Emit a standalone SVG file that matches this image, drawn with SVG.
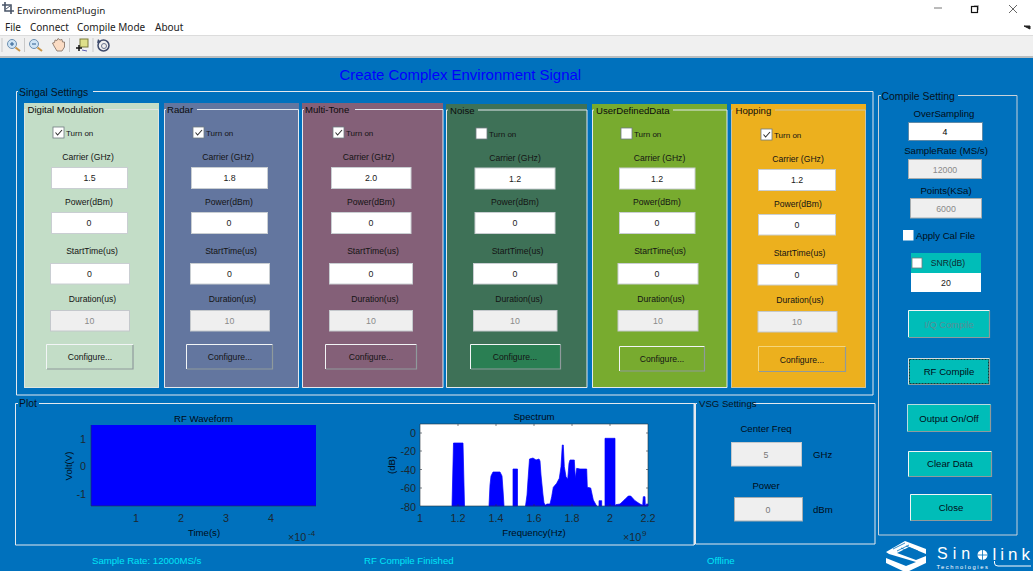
<svg xmlns="http://www.w3.org/2000/svg" width="1033" height="574" viewBox="0 0 1033 574">
<style>
text{font-family:"Liberation Sans",Arial,sans-serif;font-size:8.6px;fill:#141414}
.c{text-anchor:middle}
.ui{font-family:"Noto Sans","Open Sans",sans-serif;font-size:10px;fill:#222}
.leg{font-size:9.6px;fill:#0c0c0c}
.on{font-size:8px}
.head{font-size:10.4px;fill:#06121c}
.val{font-size:8.8px;fill:#222;text-anchor:middle}
.dis{font-size:8.8px;fill:#8a8a8a;text-anchor:middle}
.lbl{font-size:9.6px;fill:#000d18}
.tick{font-size:10.8px;fill:#1c2830}
.ttl{font-size:9.6px;fill:#000a14;text-anchor:middle}
.stat{font-size:9.6px;fill:#00e6f6}
.frame{fill:none;stroke:#e4e9ee;stroke-width:1}
.f{fill:#fff;stroke:#c9ced2;stroke-width:1}
.fd{fill:#efefef;stroke:#c4c8cc;stroke-width:1}
.cb{fill:#fff;stroke:#6f7a80;stroke-width:.8}
.bh{fill:none;stroke:#f2f5f6;stroke-width:1}
.bs{fill:none;stroke:#8f9a9c;stroke-width:1.2}
.tl{stroke:#26323c;stroke-width:.6;fill:none}
.bt{fill:#00bdb8}
.ck{fill:none;stroke:#333;stroke-width:1.1}
.lg{fill:#fff}
</style>
<defs>
<path id="check" class="ck" d="M2.5,5.5 L4.6,8 L9,3"/>
</defs>
<rect id="window" width="1033" height="574" fill="#fff"/>
<rect id="toolbar" y="36" width="1033" height="21" fill="#f0f0f0"/>
<rect y="35" width="1033" height="1" fill="#dcdcdc"/>
<rect y="56" width="1033" height="2" fill="#b9bdbf"/>
<rect id="bg" y="58" width="1033" height="513" fill="#0071bd"/>

<g id="titlebar">
<path d="M5,2 V11 H14 M2,5 H11 V14" fill="none" stroke="#4a5568" stroke-width="1.6"/>
<path d="M6,9 L10,6" stroke="#4a5568" stroke-width="1"/>
<text class="ui" style="font-size:9.8px" x="17" y="13.5">EnvironmentPlugin</text>
<path d="M934,8 H942" stroke="#777" stroke-width="1"/>
<rect x="971.5" y="6.5" width="6" height="6" fill="none" stroke="#111" stroke-width="1.2"/>
<path d="M974,5.5 H978.5 V10" fill="none" stroke="#999" stroke-width=".8"/>
<path d="M1009,5 L1017,13 M1017,5 L1009,13" stroke="#666" stroke-width="1"/>
<path d="M1024,26 L1030,29 V26 Z" fill="#222" stroke="#222"/>
</g>
<g id="menu">
<text class="ui" x="5" y="31">File</text>
<text class="ui" x="30" y="31">Connect</text>
<text class="ui" x="77" y="31">Compile Mode</text>
<text class="ui" x="155" y="31">About</text>
</g>
<g id="tools">
<path d="M2,38 V52 M24.5,38 V52 M69.5,38 V52 M93,38 V52" stroke="#c9c9c9"/>
<g id="tool-zoom-in"><circle cx="12" cy="44" r="4.5" fill="#cfe4f5" stroke="#6d8fb0"/><path d="M15.5,47.5 L20,51" stroke="#c9964a" stroke-width="2"/><path d="M10,44 H14 M12,42 V46" stroke="#2a5d8f"/></g>
<g id="tool-zoom-out"><circle cx="34" cy="44" r="4.5" fill="#cfe4f5" stroke="#6d8fb0"/><path d="M37.5,47.5 L42,51" stroke="#c9964a" stroke-width="2"/><path d="M32,44 H36" stroke="#2a5d8f"/></g>
<g id="tool-pan"><path d="M54,46 L52.5,43 L54.5,42.5 L55,40 L57,40.5 L58,38.5 L60,40 L62,39.5 L62.5,42 L64.5,42 L64.5,47 L62,51 L57,51 Z" fill="#fbdcc4" stroke="#7d6a5d" stroke-width=".8"/></g>
<g id="tool-cursor"><rect x="80" y="39" width="8" height="8" fill="#dfe08a" stroke="#7a7a3c"/><path d="M76,48 H82 M79,45 V51" stroke="#111" stroke-width="1.5"/><path d="M82,50 L87,51" stroke="#5b5bb0"/></g>
<g id="tool-rotate"><circle cx="103.5" cy="45.5" r="5.5" fill="none" stroke="#3e4a6b" stroke-width="1.5"/><circle cx="104" cy="46" r="2.5" fill="none" stroke="#6b7590"/><path d="M98,39 L101,42 L97,43 Z" fill="#3e4a6b"/></g>
</g>
<text id="title" x="339.5" y="80" style="font-size:14.95px;fill:#0000ff">Create Complex Environment Signal</text>

<g id="signal-settings">
<path class="frame" d="M93,91.5 H873 V395 H16.5 V91.5 H18"/>
<text class="head" x="19" y="96">Singal Settings</text>
</g>

<g id="panel-digital">
<rect x="24" y="103" width="135" height="285" fill="#c3ddc7"/>
<path class="frame" d="M105,109.5 H158.5 V387.5 H24.5 V109.5 H26" style="stroke:#dfe6e2"/>
<text class="leg" x="27.5" y="113">Digital Modulation</text>
<rect class="cb" x="53" y="127" width="11" height="11"/><use href="#check" x="53" y="127"/>
<text class="on" x="66" y="136">Turn on</text>
<text class="c" x="88" y="160">Carrier (GHz)</text>
<rect class="f" x="51.5" y="167.5" width="76" height="21"/><text class="val" x="89.5" y="181">1.5</text>
<text class="c" x="89" y="204.5">Power(dBm)</text>
<rect class="f" x="51.5" y="212.5" width="76" height="21"/><text class="val" x="89" y="226">0</text>
<text class="c" x="92" y="254">StartTime(us)</text>
<rect class="f" x="50.5" y="263.5" width="79" height="20.5"/><text class="val" x="89.5" y="276.5">0</text>
<text class="c" x="92.5" y="302">Duration(us)</text>
<rect class="fd" x="50.5" y="310.5" width="79" height="20.5"/><text class="dis" x="89.5" y="323.5">10</text>
<rect x="46" y="344" width="87.5" height="25.5" fill="#c3ddc7"/><path class="bh" d="M46.5,369 V344.5 H133"/><path class="bs" d="M47,369 H133 V345"/>
<text class="c" x="90" y="360">Configure...</text>
</g>

<g id="panel-radar">
<rect x="164" y="103" width="135" height="285" fill="#63769f"/>
<path class="frame" d="M197,109.5 H298.5 V387.5 H164.5 V109.5 H166"/>
<text class="leg" x="167" y="113">Radar</text>
<rect class="cb" x="193" y="127" width="11" height="11"/><use href="#check" x="193" y="127"/>
<text class="on" x="206" y="136">Turn on</text>
<text class="c" x="228" y="160">Carrier (GHz)</text>
<rect class="f" x="191.5" y="167.5" width="76" height="21"/><text class="val" x="229.5" y="181">1.8</text>
<text class="c" x="229" y="204.5">Power(dBm)</text>
<rect class="f" x="191.5" y="212.5" width="76" height="21"/><text class="val" x="229" y="226">0</text>
<text class="c" x="231" y="254">StartTime(us)</text>
<rect class="f" x="190.5" y="263.5" width="79" height="20.5"/><text class="val" x="229.5" y="276.5">0</text>
<text class="c" x="232.5" y="302">Duration(us)</text>
<rect class="fd" x="190.5" y="310.5" width="79" height="20.5"/><text class="dis" x="229.5" y="323.5">10</text>
<rect x="186" y="344" width="87" height="25.5" fill="#63769f"/><path class="bh" d="M186.5,369 V344.5 H272.5"/><path class="bs" d="M187,369 H272.5 V345"/>
<text class="c" x="230" y="360">Configure...</text>
</g>

<g id="panel-multitone">
<rect x="302" y="103" width="141" height="285" fill="#846078"/>
<path class="frame" d="M355,109.5 H443 V387.5 H302.5 V109.5 H304"/>
<text class="leg" x="305" y="113">Multi-Tone</text>
<rect class="cb" x="333" y="127" width="11" height="11"/><use href="#check" x="333" y="127"/>
<text class="on" x="346" y="136">Turn on</text>
<text class="c" x="368.5" y="160">Carrier (GHz)</text>
<rect class="f" x="331.5" y="167.5" width="79.5" height="21"/><text class="val" x="371" y="181">2.0</text>
<text class="c" x="371" y="204.5">Power(dBm)</text>
<rect class="f" x="331.5" y="212.5" width="79.5" height="21"/><text class="val" x="371" y="226">0</text>
<text class="c" x="373" y="254">StartTime(us)</text>
<rect class="f" x="329.5" y="263.5" width="83" height="20.5"/><text class="val" x="371" y="276.5">0</text>
<text class="c" x="375" y="302">Duration(us)</text>
<rect class="fd" x="329.5" y="310.5" width="83" height="20.5"/><text class="dis" x="371" y="323.5">10</text>
<rect x="325" y="344" width="92" height="25.5" fill="#846078"/><path class="bh" d="M325.5,369 V344.5 H416.5"/><path class="bs" d="M326,369 H416.5 V345"/>
<text class="c" x="371" y="360">Configure...</text>
</g>

<g id="panel-noise">
<rect x="446" y="104" width="141" height="284" fill="#3e7157"/>
<path class="frame" d="M478,110 H587 V387.5 H446.5 V110 H448"/>
<text class="leg" x="450" y="113.5">Noise</text>
<rect class="cb" x="476" y="128" width="11" height="11"/>
<text class="on" x="489" y="137">Turn on</text>
<text class="c" x="515" y="160.5">Carrier (GHz)</text>
<rect class="f" x="475" y="168" width="80" height="21"/><text class="val" x="515" y="181.5">1.2</text>
<text class="c" x="515" y="204.5">Power(dBm)</text>
<rect class="f" x="475" y="212.5" width="80" height="21"/><text class="val" x="515" y="226">0</text>
<text class="c" x="517.5" y="254">StartTime(us)</text>
<rect class="f" x="473.5" y="263.5" width="83.5" height="20.5"/><text class="val" x="515" y="276.5">0</text>
<text class="c" x="519" y="302">Duration(us)</text>
<rect class="fd" x="473.5" y="310.5" width="83.5" height="20.5"/><text class="dis" x="515" y="323.5">10</text>
<rect x="470" y="344" width="91" height="25.5" fill="#2a7f53"/><path class="bh" d="M470.5,369 V344.5 H560.5"/><path class="bs" d="M471,369 H560.5 V345"/>
<text class="c" x="515" y="360">Configure...</text>
</g>

<g id="panel-userdata">
<rect x="592" y="104" width="135" height="284" fill="#78ab2f"/>
<path class="frame" d="M673,110 H727 V387.5 H592.500 V110 H594"/>
<text class="leg" x="596" y="113.5">UserDefinedData</text>
<rect class="cb" x="621" y="128" width="11" height="11"/>
<text class="on" x="634" y="137">Turn on</text>
<text class="c" x="659.500" y="160.500">Carrier (GHz)</text>
<rect class="f" x="619.500" y="168" width="75.500" height="21"/><text class="val" x="657" y="181.500">1.2</text>
<text class="c" x="657" y="204.500">Power(dBm)</text>
<rect class="f" x="619.500" y="212.500" width="75.500" height="21"/><text class="val" x="657" y="226">0</text>
<text class="c" x="660" y="254">StartTime(us)</text>
<rect class="f" x="618" y="263.500" width="80" height="20.500"/><text class="val" x="657" y="276.500">0</text>
<text class="c" x="661" y="302">Duration(us)</text>
<rect class="fd" x="618" y="310.500" width="80" height="20.500"/><text class="dis" x="658" y="323.500">10</text>
<rect x="619" y="346" width="86" height="25.500" fill="#78ab2f"/><path class="bh" d="M619.500,371 V346.500 H704.500"/><path class="bs" d="M620,371 H704.500 V347"/>
<text class="c" x="662" y="362">Configure...</text>
</g>

<g id="panel-hopping">
<rect x="731" y="104" width="135" height="284" fill="#ecb01e"/>
<path class="frame" d="M775,110 H865.500 V387.500 H731.500 V110 H733" style="stroke:#c8c4a8"/>
<text class="leg" x="735.500" y="114">Hopping</text>
<rect class="cb" x="761" y="129" width="11" height="11"/><use href="#check" x="761" y="129"/>
<text class="on" x="774" y="138">Turn on</text>
<text class="c" x="798" y="162">Carrier (GHz)</text>
<rect class="f" x="758.500" y="169.500" width="77" height="21"/><text class="val" x="797" y="183">1.2</text>
<text class="c" x="798" y="206.500">Power(dBm)</text>
<rect class="f" x="758.500" y="214.500" width="77" height="20.500"/><text class="val" x="797" y="228">0</text>
<text class="c" x="799.500" y="255.500">StartTime(us)</text>
<rect class="f" x="758" y="264.500" width="79" height="20.500"/><text class="val" x="797" y="277.500">0</text>
<text class="c" x="800" y="303">Duration(us)</text>
<rect class="fd" x="758" y="311.500" width="79" height="20.500"/><text class="dis" x="797" y="324.500">10</text>
<rect x="758" y="346" width="88" height="26" fill="#ecb01e"/><path class="bh" d="M758.500,371 V346.500 H845.500" style="stroke:#f5d67a"/><path class="bs" d="M759,371.500 H845.500 V347"/>
<text class="c" x="802" y="363">Configure...</text>
</g>

<g id="plot">
<path class="frame" d="M39,403.500 H694 V545 H15.500 V403.500 H18"/>
<path d="M694.500,403 V545" stroke="#e4e9ee"/>
<text class="head" x="19" y="407">Plot</text>
</g>

<g id="waveform">
<text class="ttl" x="203.500" y="422">RF Waveform</text>
<rect x="91" y="425" width="225" height="81" fill="#0000ff"/>
<path class="tl" d="M91,425 V506 H316"/>
<text class="tick" text-anchor="end" x="86" y="443">1</text><text class="tick" text-anchor="end" x="86" y="470">0</text><text class="tick" text-anchor="end" x="86" y="497.500">-1</text>
<text class="tick c" x="136" y="522">1</text><text class="tick c" x="181" y="522">2</text><text class="tick c" x="226" y="522">3</text><text class="tick c" x="271" y="522">4</text>
<text class="lbl c" transform="translate(72,466) rotate(-90)">Volt(V)</text>
<text class="lbl c" x="204" y="536">Time(s)</text>
<text class="tick" x="288" y="541">×10</text><text class="tick" style="font-size:8px" x="308" y="536">-4</text>
</g>

<g id="spectrum">
<text class="ttl" x="534" y="420">Spectrum</text>
<rect x="420" y="424" width="228" height="82" fill="#fff"/>
<path fill="#0000ff" stroke="#0000ff" stroke-width=".7" stroke-linejoin="round" d="M452,506 L453.500,443 H463 L464.500,506 Z
M489,506 L490,485 L491,476 L493,472 H500 L502,476 L503,490 L504,506 Z
M513,506 V469 H517.500 V506 Z
M525.500,506 L527,495 L528,480 L529.500,459 L533,458 L536,460 L539,459 L540,461 L541,475 L543,495 L544,503 L546,506 Z
M545,506 L546.700,504 L550,504 L551.700,496.700 L553.300,487.300 L556.700,483.300 L559.300,478.300 L561,466.700 L562.300,445 L563.300,445 L564.300,466.700 L566,476.700 L567.700,479.300 L569,463.300 L570,460 L574.300,460 L575.300,478.300 L576.700,468.300 L580,469 L586.700,469 L587.300,487.300 L590.700,488 L593.300,500 L596.700,506 Z
M599,506 V500.700 H601.700 V506 Z
M605,506 V438.300 H615 V506 Z
M615,506 L615.700,504.700 L620,504 L625,499.300 L628.300,496 L630.700,496 L635,500.700 L640,504 L642.700,505.300 L643.300,496.700 L645,496.700 L645.300,505.300 L646.700,504 L648,504 V506 Z"/>
<path class="tl" d="M420,424 H648 V506 H420 Z M420,433 H422 M420,451 H422 M420,469.500 H422 M420,488 H422 M648,433 H646 M648,451 H646 M648,469.500 H646 M648,488 H646 M458,506 V504 M496,506 V504 M534,506 V504 M572,506 V504 M610,506 V504 M458,424 V426 M496,424 V426 M534,424 V426 M572,424 V426 M610,424 V426"/>
<text class="tick" text-anchor="end" x="416" y="437">0</text><text class="tick" text-anchor="end" x="416" y="455">-20</text><text class="tick" text-anchor="end" x="416" y="473.500">-40</text><text class="tick" text-anchor="end" x="416" y="492">-60</text><text class="tick" text-anchor="end" x="416" y="511">-80</text>
<text class="tick c" x="420" y="522">1</text><text class="tick c" x="458" y="522">1.2</text><text class="tick c" x="496" y="522">1.4</text><text class="tick c" x="534" y="522">1.6</text><text class="tick c" x="572" y="522">1.8</text><text class="tick c" x="610" y="522">2</text><text class="tick c" x="648" y="522">2.2</text>
<text class="lbl c" transform="translate(395,465) rotate(-90)">(dB)</text>
<text class="lbl c" x="534" y="536">Frequency(Hz)</text>
<text class="tick" x="623" y="541">×10</text><text class="tick" style="font-size:8px" x="642" y="536">9</text>
</g>

<g id="vsg-settings">
<path class="frame" d="M753,403.500 H875 V544 H695.500 V403.500 H697"/>
<text class="leg" x="699" y="407" style="fill:#06121c">VSG Settings</text>
<text class="c lbl" x="766" y="431.500">Center Freq</text>
<rect class="fd" x="731.500" y="442.500" width="70" height="23.500"/><text class="dis" style="fill:#777" x="766" y="458">5</text>
<text x="813" y="458" class="lbl">GHz</text>
<text class="c lbl" x="766" y="488.500">Power</text>
<rect class="fd" x="734.500" y="497.500" width="68" height="23.500" style="stroke:#a7adb0"/><text class="dis" style="fill:#777" x="768" y="513">0</text>
<text x="813" y="512.500" class="lbl">dBm</text>
</g>

<g id="compile-setting">
<path class="frame" d="M958,95.500 H1017 V535 H878.500 V95.500 H881" style="stroke:#c8d2da"/>
<text class="head" x="881.500" y="100">Compile Setting</text>
<text class="c lbl" x="944" y="116.500">OverSampling</text>
<rect class="f" x="908.500" y="122.500" width="74" height="18" style="stroke:#5f8aa8"/><text class="val" style="fill:#000" x="945" y="134.500">4</text>
<text class="c lbl" x="946" y="153.500">SampleRate (MS/s)</text>
<rect class="fd" x="908.500" y="159.500" width="73" height="19" style="stroke:#a7adb0"/><text class="dis" x="945" y="172.500">12000</text>
<text class="c lbl" x="946" y="193.500">Points(KSa)</text>
<rect class="fd" x="910.500" y="198.500" width="71" height="19.500" style="stroke:#a7adb0"/><text class="dis" x="946" y="211.500">6000</text>
<rect x="903" y="230" width="10.500" height="10.500" fill="#fff"/>
<text class="lbl" x="916" y="238.500">Apply Cal File</text>
<rect x="911" y="253" width="70" height="20" fill="#00bdb8"/>
<rect class="cb" x="912" y="258" width="10" height="10"/>
<text class="c" x="948" y="266" style="fill:#0e2a30">SNR(dB)</text>
<rect x="911" y="273" width="70" height="19" fill="#fff"/><text class="val" x="946" y="285.500">20</text>
</g>

<g id="btn-iq">
<rect class="bt" x="908" y="310" width="82" height="28"/><path class="bh" d="M908.500,337 V310.500 H989.500"/><path class="bs" d="M909,337.500 H989.500 V311"/>
<text class="c" x="949" y="327.500" style="fill:#5a8d95;font-size:9.4px">I/Q Compile</text>
</g>
<g id="btn-rf">
<rect class="bt" x="908" y="358" width="82" height="27"/><path class="bh" d="M908.500,384.500 V358.500 H989.500" style="stroke:#d5dde0"/><path class="bs" d="M909,384.500 H989.500 V359"/>
<rect x="909.500" y="359.500" width="79" height="24" fill="none" stroke="#143a3a" stroke-dasharray="2 1"/>
<text class="c lbl" x="949" y="374.500">RF Compile</text>
</g>
<g id="btn-output">
<rect class="bt" x="907" y="404" width="84" height="28"/><path class="bh" d="M907.500,431.500 V404.500 H990.500" style="stroke:#b8dbe0"/><path class="bs" d="M908,431.500 H990.500 V405"/>
<text class="c lbl" x="949" y="421.500">Output On/Off</text>
</g>
<g id="btn-clear">
<rect class="bt" x="908" y="451" width="84" height="26"/><path class="bh" d="M908.500,476.500 V451.500 H991.500"/><path class="bs" d="M909,476.500 H991.500 V452"/>
<text class="c lbl" x="950" y="467">Clear Data</text>
</g>
<g id="btn-close">
<rect class="bt" x="910" y="494" width="82" height="27"/><path class="bh" d="M910.500,520.500 V494.500 H991.500"/><path class="bs" d="M911,520.500 H991.500 V495"/>
<text class="c lbl" x="951" y="511">Close</text>
</g>

<g id="status">
<text class="stat" x="92" y="564">Sample Rate: 12000MS/s</text>
<text class="stat" x="364" y="564">RF Compile Finished</text>
<text class="stat" x="707" y="564">Offline</text>
</g>

<g id="logo">
<path class="lg" d="M886,552 L905,541 L926,549 V554 L909,547 L897,553 L916,560 L926,556 V563 L906,572.500 L886,563 V558 L906,566 L916,562 L889,554 Z"/>
<path d="M893,549 L905,543 M897,551 L909,545 M901,548 L912,553 M906,546 L918,551" stroke="#0071bd" stroke-width=".8"/>
<text x="937" y="559" style="font-size:16px;fill:#fff;letter-spacing:5px">Sin</text>
<circle cx="982.500" cy="555" r="5" fill="#fff"/>
<path d="M977.500,555 H987.500 M982.500,550 V560" stroke="#0071bd" stroke-width=".8"/>
<text x="992.500" y="560" style="font-size:17px;fill:#fff;letter-spacing:4px">link</text>
<path d="M994.500,561 V563 Q994.500,566 998,566 H1031" fill="none" stroke="#fff" stroke-width="1"/>
<text x="936.500" y="568.500" style="font-size:5.800px;fill:#fff;letter-spacing:1.600px">Technologies</text>
</g>
</svg>
